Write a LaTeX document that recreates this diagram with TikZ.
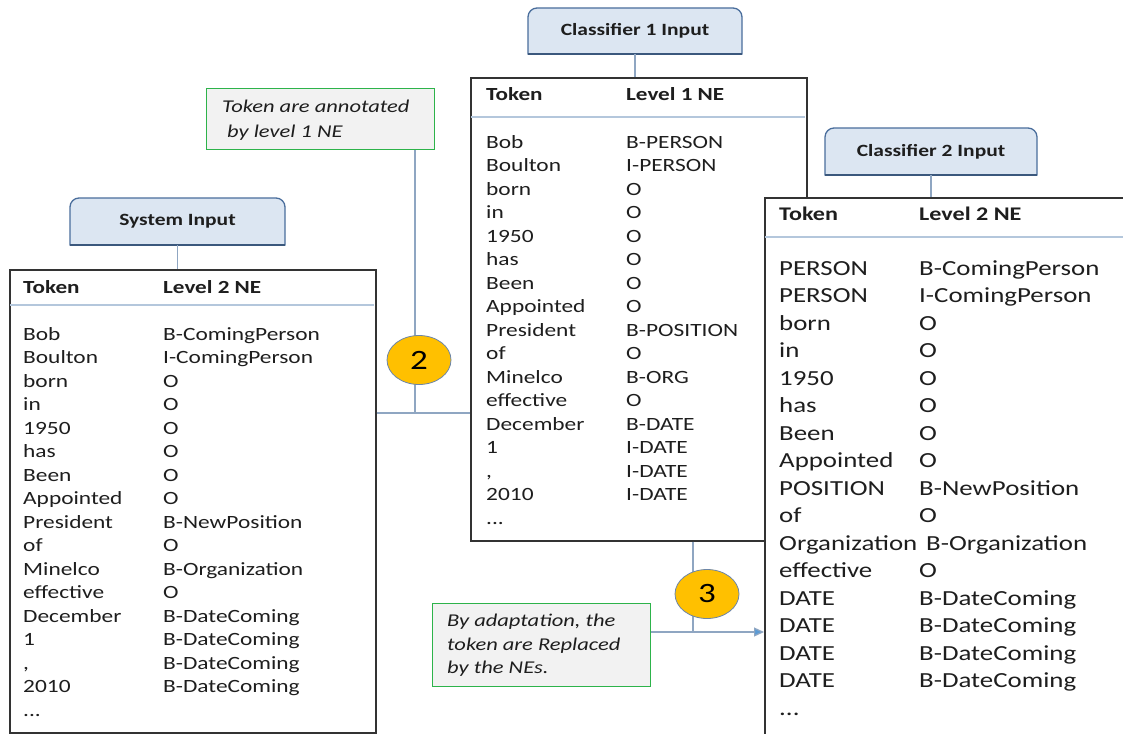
\documentclass[tikz,border=0pt]{standalone}
\usepackage{fontspec}
\setmainfont{Carlito}[FakeStretch=1.25]
\usetikzlibrary{shapes.geometric,arrows.meta}
\definecolor{boxfill}{HTML}{DCE6F2}
\definecolor{boxdraw}{HTML}{4A6E9C}
\definecolor{tabdraw}{HTML}{333333}
\definecolor{sepline}{HTML}{B4C7DC}
\definecolor{conn}{HTML}{8FA6C2}
\definecolor{arrowblue}{HTML}{5B9BD5}
\definecolor{notefill}{HTML}{F2F2F2}
\definecolor{notedraw}{HTML}{2DB34A}
\definecolor{circfill}{HTML}{FFC000}
\definecolor{circdraw}{HTML}{6D86A8}
\definecolor{txt}{HTML}{1E1E1E}
\tikzset{
  tablebox/.style={draw=tabdraw, line width=1.6pt, fill=white, anchor=north west, inner sep=0pt},
  cell/.style={anchor=base west, inner sep=0pt, text=txt, font=\fontsize{18.7}{22}\selectfont},
  bigcell/.style={anchor=base west, inner sep=0pt, text=txt, font=\fontsize{21.5}{26}\selectfont},
  headcell/.style={cell, font=\fontsize{18.5}{22}\selectfont\bfseries},
  bigheadcell/.style={bigcell, font=\fontsize{19.3}{24}\selectfont\bfseries},
  labeltext/.style={font=\fontsize{17.2}{20}\selectfont\bfseries, text=txt, inner sep=0pt},
  notebox/.style={draw=notedraw, fill=notefill, line width=1.3pt, anchor=north west, inner sep=0pt},
  notetext/.style={anchor=base west, inner sep=0pt, text=txt, font=\fontsize{18}{22}\selectfont\itshape},
  connector/.style={draw=conn, line width=1.2pt},
  sepstyle/.style={draw=sepline, line width=1.2pt},
  stepcircle/.style={ellipse, fill=circfill, draw=circdraw, line width=0.8pt, minimum width=64pt, minimum height=49pt, inner sep=0pt, text=black, font=\fontsize{28}{30}\selectfont},
}
\newcommand{\inbox}[5]{% name, x1, y1, x2, y2
  \path[fill=boxfill, draw=boxdraw, line width=1.3pt]
    (#2,#5) [rounded corners=9pt] -- (#2,#3) -- (#4,#3) [sharp corners] -- (#4,#5) -- cycle;
  \draw[boxdraw!80!black, line width=2pt] (#2,#5) -- (#4,#5);
  \coordinate (#1) at ({(#2+#4)/2},{(#3+#5)/2});
  \coordinate (#1-s) at ({(#2+#4)/2},#5);
}
\begin{document}
\begin{tikzpicture}[x=1pt,y=-1pt]
\useasboundingbox (0,0) rectangle (1123,733);
\clip (0,0) rectangle (1123,733);
\fill[white] (0,0) rectangle (1123,733);

\coordinate (j2) at (415,413);
\coordinate (j3) at (693,632);

% ---------- left table ----------
\node[tablebox, minimum width=366pt, minimum height=463pt] (lt) at (9,269) {};
\draw[sepstyle] (10,305) -- (374,305);
\node[headcell] (lth1) at (23,293) {Token};
\node[headcell] (lth2) at (163,293) {Level 2 NE};
\foreach \a/\b [count=\i] in {Bob/B-ComingPerson, Boulton/I-ComingPerson, born/O, in/O, 1950/O, has/O, Been/O, Appointed/O, President/B-NewPosition, of/O, Minelco/B-Organization, effective/O, December/B-DateComing, 1/B-DateComing, {,}/B-DateComing, 2010/B-DateComing}{
  \node[cell] (lta\i) at (23,{340+(\i-1)*23.5}) {\a};
  \node[cell] (ltb\i) at (163,{340+(\i-1)*23.5}) {\b};
}
\node[cell] (ltdots) at (23,716) {...};

% ---------- middle table ----------
\node[tablebox, minimum width=336pt, minimum height=463pt] (mt) at (470,77) {};
\draw[sepstyle] (471,117) -- (805,117);
\node[headcell] (mth1) at (486,101) {Token};
\node[headcell] (mth2) at (626,101) {Level 1 NE};
\foreach \a/\b [count=\i] in {Bob/B-PERSON, Boulton/I-PERSON, born/O, in/O, 1950/O, has/O, Been/O, Appointed/O, President/B-POSITION, of/O, Minelco/B-ORG, effective/O, December/B-DATE, 1/I-DATE, {,}/I-DATE, 2010/I-DATE}{
  \node[cell] (mta\i) at (486,{148+(\i-1)*23.5}) {\a};
  \node[cell] (mtb\i) at (626,{148+(\i-1)*23.5}) {\b};
}
\node[cell] (mtdots) at (486,524) {...};

% ---------- connectors ----------
\draw[connector] (lt.east |- j2) -- (mt.west |- j2);
\draw[connector] (415,149) -- (j2);
\draw[connector] (mt.south -| j3) -- (j3);

% ---------- right table ----------
\node[tablebox, minimum width=400pt, minimum height=560pt] (rt) at (764,197) {};
\draw[sepstyle] (765,237) -- (1123,237);
\node[bigheadcell] (rth1) at (779,220) {Token};
\node[bigheadcell] (rth2) at (919,220) {Level 2 NE};
\foreach \a/\b/\x [count=\i] in {PERSON/B-ComingPerson/919, PERSON/I-ComingPerson/919, born/O/919, in/O/919, 1950/O/919, has/O/919, Been/O/919, Appointed/O/919, POSITION/B-NewPosition/919, of/O/919, Organization/B-Organization/926, effective/O/919, DATE/B-DateComing/919, DATE/B-DateComing/919, DATE/B-DateComing/919, DATE/B-DateComing/919}{
  \node[bigcell] (rta\i) at (779,{275+(\i-1)*27.5}) {\a};
  \node[bigcell] (rtb\i) at (\x,{275+(\i-1)*27.5}) {\b};
}
\node[bigcell] (rtdots) at (779,715) {...};

% ---------- input boxes ----------
\inbox{sysin}{70}{198}{285}{245}
\node[labeltext] (sysinlabel) at (sysin) {System Input};
\draw[connector] (sysin-s) -- (lt.north -| sysin-s);

\inbox{c1in}{528}{8}{742}{54}
\node[labeltext] (c1inlabel) at (c1in) {Classifier 1 Input};
\draw[connector] (c1in-s) -- (mt.north -| c1in-s);

\inbox{c2in}{825}{128}{1037}{175}
\node[labeltext] (c2inlabel) at (c2in) {Classifier 2 Input};
\draw[connector] (c2in-s) -- (rt.north -| c2in-s);

% ---------- notes ----------
\node[notebox, minimum width=228pt, minimum height=61pt] (note1) at (206,88) {};
\node[notetext] (note1a) at (222,113) {Token are annotated};
\node[notetext] (note1b) at (227,137) {by level 1 NE};

\node[notebox, minimum width=218pt, minimum height=83pt] (note2) at (432,603) {};
\node[notetext] (note2a) at (447,626) {By adaptation, the};
\node[notetext] (note2b) at (447,650) {token are Replaced};
\node[notetext] (note2c) at (447,673) {by the NEs.};

\draw[connector, -{Triangle[length=10pt,width=9pt,fill=arrowblue]}] (note2.east |- j3) -- (rt.west |- j3);

% ---------- step circles ----------
\node[stepcircle] (c2) at (419,360) {2};
\node[stepcircle] (c3) at (707,594) {3};
\end{tikzpicture}
\end{document}
